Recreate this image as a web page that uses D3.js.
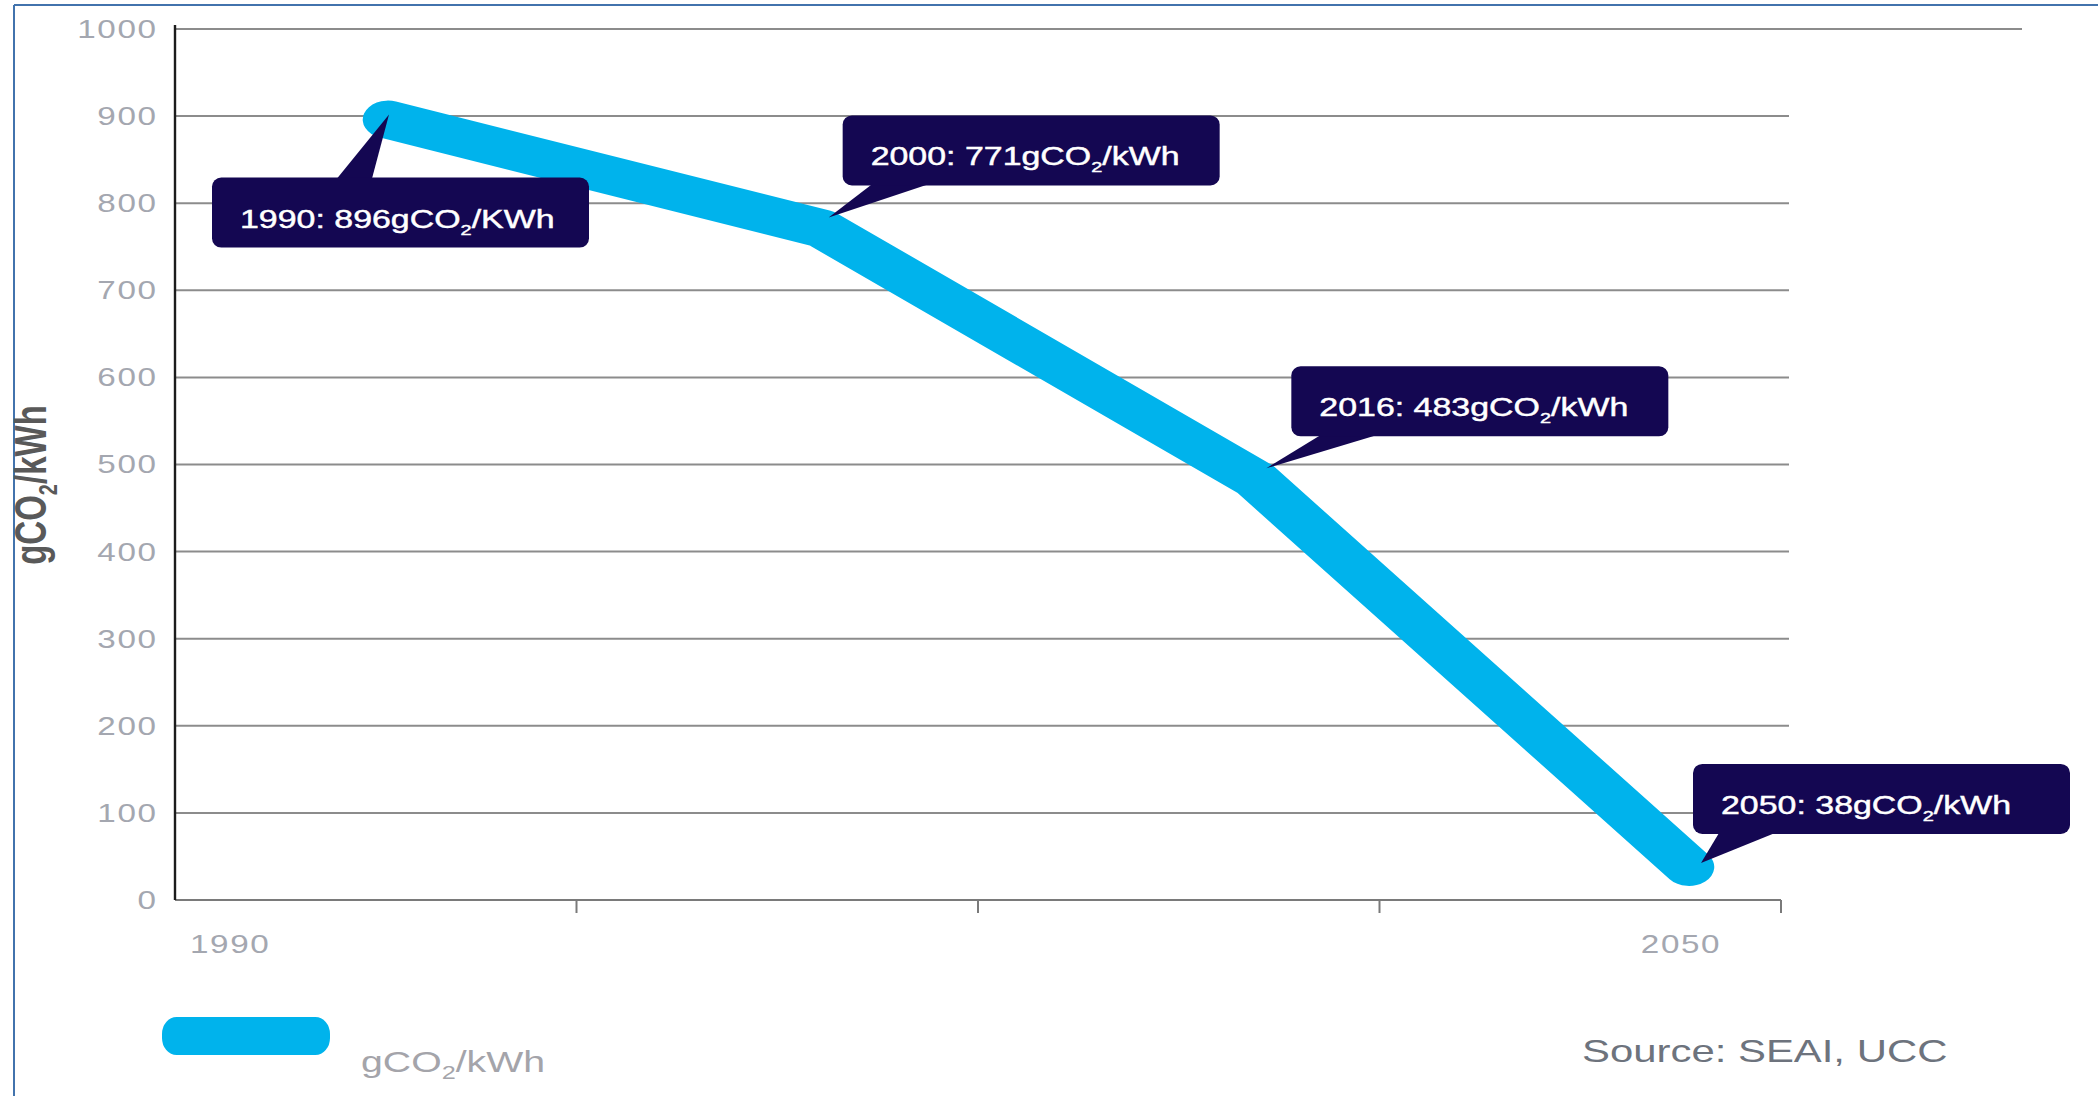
<!DOCTYPE html>
<html>
<head>
<meta charset="utf-8">
<title>Carbon intensity of electricity</title>
<script src="https://cdn.jsdelivr.net/npm/d3@7"></script>
<style>
  html, body { margin: 0; padding: 0; background: #ffffff; overflow: hidden; }
  svg { display: block; }
  text { font-family: "Liberation Sans", Arial, Helvetica, sans-serif; }
</style>
</head>
<body>
<svg id="chart" width="2098" height="1096"></svg>
<script>
// ---- data ----
const years = ["1990", "2000", "2016", "2050"];
const intensity = [896, 771, 483, 38];          // gCO2 per kWh
const unitTail = ["KWh", "kWh", "kWh", "kWh"];  // unit as written in each callout
const yTicks = [0, 100, 200, 300, 400, 500, 600, 700, 800, 900, 1000];
const xTickLabels = ["1990", "2050"];
const unitParts = ["gCO", "2", "/kWh"];          // gCO₂/kWh with subscript
const sourceNote = "Source: SEAI, UCC";

// ---- layout ----
const W = 2098, H = 1096;
const SX = 1.33;                 // wide horizontal rendering of the whole graphic
const ix = v => v / SX;          // screen px -> inner x units

const COLORS = {
  line: "#00b3ec",
  callout: "#140752",
  grid: "#8c8c8c",
  axis: "#1c1c1c",
  baseAxis: "#7a7a7a",
  tick: "#a4a7b0",
  title: "#595959",
  legend: "#a4a4aa",
  source: "#6d737d",
  frame: "#4273ad"
};

// callout placement relative to each point (screen px)
const calloutLayout = [
  { dx: -176, dy: 58,   edge: "top",    base: [125, 160], tip: [1, -5] },
  { dx: 21,   dy: -113, edge: "bottom", base: [29, 85],   tip: [7, -11] },
  { dx: 36,   dy: -113, edge: "bottom", base: [29, 85],   tip: [11, -11] },
  { dx: 4,    dy: -103, edge: "bottom", base: [26, 82],   tip: [12, -4] }
];
const BOX_W = 377, BOX_H = 70;

const svg = d3.select("#chart");
const g = svg.append("g").attr("transform", `scale(${SX},1)`);

const axisLeftX = ix(175), axisRightX = ix(1781);
const x = d3.scalePoint().domain(years).range([ix(388), ix(1689)]);
const y = d3.scaleLinear().domain([0, 1000]).range([900, 29]);
const band = d3.scaleLinear().domain([0, 4]).range([axisLeftX, axisRightX]);

// ---- frame ----
g.append("line")
  .attr("x1", ix(14)).attr("x2", ix(14)).attr("y1", 5).attr("y2", H + 10)
  .attr("stroke", COLORS.frame).attr("stroke-width", 2 / SX);
g.append("line")
  .attr("x1", ix(14)).attr("x2", ix(W + 10)).attr("y1", 5).attr("y2", 5)
  .attr("stroke", COLORS.frame).attr("stroke-width", 2);

// ---- gridlines ----
const yMax = d3.max(yTicks);
g.append("g").selectAll("line")
  .data(yTicks.filter(v => v > 0))
  .join("line")
  .attr("x1", axisLeftX)
  .attr("x2", v => v === yMax ? ix(2022) : ix(1789))
  .attr("y1", v => y(v)).attr("y2", v => y(v))
  .attr("stroke", COLORS.grid).attr("stroke-width", 2);

// ---- base axis with band ticks ----
g.append("line")
  .attr("x1", axisLeftX).attr("x2", axisRightX)
  .attr("y1", y(0)).attr("y2", y(0))
  .attr("stroke", COLORS.baseAxis).attr("stroke-width", 2);
g.append("g").selectAll("line")
  .data(band.ticks(4).filter(t => t > 0))
  .join("line")
  .attr("x1", t => band(t)).attr("x2", t => band(t))
  .attr("y1", y(0)).attr("y2", y(0) + 13)
  .attr("stroke", COLORS.baseAxis).attr("stroke-width", 2 / SX);

// ---- value axis ----
g.append("line")
  .attr("x1", axisLeftX).attr("x2", axisLeftX)
  .attr("y1", 25).attr("y2", y(0))
  .attr("stroke", COLORS.axis).attr("stroke-width", 2.4 / SX);

const tickFont = { size: 25, spacing: 1.2 };
g.append("g").selectAll("text")
  .data(yTicks)
  .join("text")
  .attr("x", ix(156) + tickFont.spacing)
  .attr("y", v => y(v) + 9)
  .attr("text-anchor", "end")
  .attr("font-size", tickFont.size)
  .attr("letter-spacing", tickFont.spacing)
  .attr("fill", COLORS.tick)
  .text(v => v);

// year labels under the axis
g.append("text")
  .attr("x", axisLeftX + ix(15))
  .attr("y", 953)
  .attr("font-size", tickFont.size).attr("letter-spacing", tickFont.spacing)
  .attr("fill", COLORS.tick)
  .text(xTickLabels[0]);
g.append("text")
  .attr("x", x(xTickLabels[1]) - ix(8))
  .attr("y", 953)
  .attr("text-anchor", "middle")
  .attr("font-size", tickFont.size).attr("letter-spacing", tickFont.spacing)
  .attr("fill", COLORS.tick)
  .text(xTickLabels[1]);

// axis title
const title = g.append("text")
  .attr("transform", `translate(${ix(46)},485) rotate(-90)`)
  .attr("text-anchor", "middle")
  .attr("font-size", 33).attr("font-weight", "bold")
  .attr("fill", COLORS.title);
title.append("tspan").text(unitParts[0]);
title.append("tspan").attr("font-size", 20).attr("dy", 8).text(unitParts[1]);
title.append("tspan").attr("dy", -8).text(unitParts[2]);

// ---- series line ----
const points = years.map((yr, i) => ({ year: yr, value: intensity[i], unit: unitTail[i], layout: calloutLayout[i] }));
const line = d3.line().x(d => x(d.year)).y(d => y(d.value));
g.append("path")
  .datum(points)
  .attr("d", line)
  .attr("fill", "none")
  .attr("stroke", COLORS.line)
  .attr("stroke-width", 38)
  .attr("stroke-linecap", "round")
  .attr("stroke-linejoin", "round");

// ---- callouts ----
const callouts = g.append("g").selectAll("g")
  .data(points)
  .join("g");

callouts.each(function (d) {
  const c = d3.select(this);
  const L = d.layout;
  const px = x(d.year), py = y(d.value);
  const bx = px + ix(L.dx), by = py + L.dy;
  const bw = ix(BOX_W), bh = BOX_H;
  const edgeY = L.edge === "bottom" ? by + bh - 1 : by + 1;
  const tipX = px + ix(L.tip[0]), tipY = py + L.tip[1];

  c.append("path")
    .attr("d", `M${bx + ix(L.base[0])},${edgeY} L${bx + ix(L.base[1])},${edgeY} L${tipX},${tipY} Z`)
    .attr("fill", COLORS.callout);
  c.append("rect")
    .attr("x", bx).attr("y", by)
    .attr("width", bw).attr("height", bh)
    .attr("rx", 7).attr("ry", 9)
    .attr("fill", COLORS.callout);

  const t = c.append("text")
    .attr("x", bx + ix(28))
    .attr("y", by + 50)
    .attr("font-size", 25.5)
    .attr("fill", "#ffffff")
    .attr("stroke", "#ffffff")
    .attr("stroke-width", 0.45);
  t.append("tspan").text(`${d.year}: ${d.value}gCO`);
  t.append("tspan").attr("font-size", 15).attr("dy", 7).text("2");
  t.append("tspan").attr("dy", -7).text(`/${d.unit}`);
});

// ---- legend ----
g.append("rect")
  .attr("x", ix(162)).attr("y", 1017)
  .attr("width", ix(168)).attr("height", 38)
  .attr("rx", 11).attr("ry", 17)
  .attr("fill", COLORS.line);
const legendText = g.append("text")
  .attr("x", ix(361)).attr("y", 1072)
  .attr("font-size", 29.5)
  .attr("fill", COLORS.legend);
legendText.append("tspan").text(unitParts[0]);
legendText.append("tspan").attr("font-size", 19).attr("dy", 7).text(unitParts[1]);
legendText.append("tspan").attr("dy", -7).text(unitParts[2]);

// ---- source note ----
g.append("text")
  .attr("x", ix(1582)).attr("y", 1062)
  .attr("font-size", 31.5)
  .attr("fill", COLORS.source)
  .text(sourceNote);
</script>
</body>
</html>
